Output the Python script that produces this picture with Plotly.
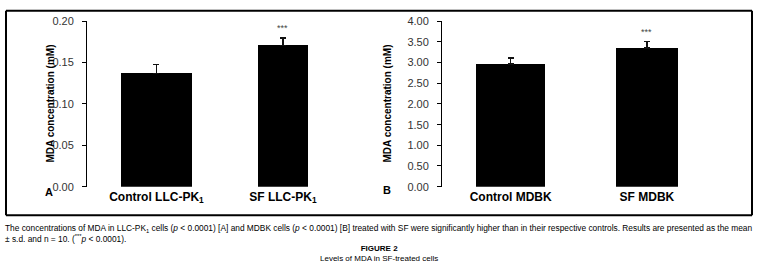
import plotly.graph_objects as go

W, H = 758, 272

# ---- data ----
cats_a = ["Control LLC-PK<sub>1</sub>", "SF LLC-PK<sub>1</sub>"]
mean_a = [0.137, 0.171]
sd_a = [0.011, 0.009]
stars_a = ["", "***"]

cats_b = ["Control MDBK", "SF MDBK"]
mean_b = [2.97, 3.36]
sd_b = [0.14, 0.15]
stars_b = ["", "***"]

ytick_a = [0, 0.05, 0.10, 0.15, 0.20]
ytick_b = [0, 0.5, 1.0, 1.5, 2.0, 2.5, 3.0, 3.5, 4.0]

ytitle = "MDA concentration (mM)"
caption1 = ("The concentrations of MDA in LLC-PK<sub>1</sub> cells (<i>p</i> &lt; 0.0001) [A] and MDBK cells "
            "(<i>p</i> &lt; 0.0001) [B] treated with SF were significantly higher than in their respective "
            "controls. Results are presented as the mean")
caption2 = "± s.d. and n = 10. (<sup>***</sup><i>p</i> &lt; 0.0001)."
fig_title = "FIGURE 2"
fig_sub = "Levels of MDA in SF-treated cells"


def px(x):
    return x / W


def py(y):
    return 1 - y / H


FONT = "Liberation Sans, Arial, sans-serif"

fig = go.Figure()

fig.add_trace(go.Bar(
    x=[0, 1], y=mean_a, width=[0.56, 0.40], marker=dict(color="black", line=dict(width=0)),
    error_y=dict(type="data", array=sd_a, arrayminus=[0, 0], symmetric=False, color="#111",
                 thickness=1.5, width=3),
    xaxis="x", yaxis="y", showlegend=False, hoverinfo="skip"))

fig.add_trace(go.Bar(
    x=[0, 1], y=mean_b, width=[0.51, 0.45], marker=dict(color="black", line=dict(width=0)),
    error_y=dict(type="data", array=sd_b, arrayminus=[0, 0], symmetric=False, color="#111",
                 thickness=1.5, width=3),
    xaxis="x2", yaxis="y2", showlegend=False, hoverinfo="skip"))

yd = [py(189), py(16)]
tickfont = dict(family=FONT, size=11, color="#333")
catfont = dict(family=FONT, size=12, color="black")

fig.update_layout(
    width=W, height=H, autosize=False,
    margin=dict(l=0, r=0, t=0, b=0),
    paper_bgcolor="white", plot_bgcolor="white",
    bargap=0,
    xaxis=dict(domain=[px(86), px(360)], range=[-0.557, 1.609], tickvals=[0, 1],
               ticktext=["<b>" + c + "</b>" for c in cats_a], showline=False, ticks="",
               showgrid=False, zeroline=False, tickfont=catfont, ticklabelstandoff=1),
    yaxis=dict(domain=yd, range=[0, 0.2], tickvals=ytick_a, tickformat=".2f",
               showline=True, linecolor="black", linewidth=1, ticks="outside", ticklen=4,
               tickcolor="black", showgrid=False, zeroline=False, tickfont=tickfont,
               ticklabelstandoff=6, anchor="free", position=px(86)),
    xaxis2=dict(domain=[px(441), px(720)], range=[-0.511, 1.536], tickvals=[0, 1],
                ticktext=["<b>" + c + "</b>" for c in cats_b], showline=False, ticks="",
                showgrid=False, zeroline=False, tickfont=catfont, ticklabelstandoff=1,
                anchor="y2"),
    yaxis2=dict(domain=yd, range=[0, 4], tickvals=ytick_b, tickformat=".2f",
                showline=True, linecolor="black", linewidth=1, ticks="outside", ticklen=4,
                tickcolor="black", showgrid=False, zeroline=False, tickfont=tickfont,
                ticklabelstandoff=6, anchor="free", position=px(441)),
)

ann = []
for i, s in enumerate(stars_a):
    if s:
        ann.append(dict(x=i, y=mean_a[i] + sd_a[i], xref="x", yref="y", text=s, showarrow=False,
                        yanchor="bottom", yshift=3, font=dict(family=FONT, size=9, color="#444")))
for i, s in enumerate(stars_b):
    if s:
        ann.append(dict(x=i, y=mean_b[i] + sd_b[i], xref="x2", yref="y2", text=s, showarrow=False,
                        yanchor="bottom", yshift=3, font=dict(family=FONT, size=9, color="#444")))

# axis titles
for xc in (42.5, 387):
    ann.append(dict(x=px(xc), y=py(102), xref="paper", yref="paper", text="<b>" + ytitle + "</b>",
                    textangle=-90, showarrow=False, font=dict(family=FONT, size=10, color="black")))
# panel letters
ann.append(dict(x=px(43), y=py(203), xref="paper", yref="paper", text="<b>A</b>", showarrow=False,
                font=dict(family=FONT, size=11, color="black")))
ann.append(dict(x=px(387), y=py(201), xref="paper", yref="paper", text="<b>B</b>", showarrow=False,
                font=dict(family=FONT, size=11, color="black")))
# caption (two lines, left aligned)
ann.append(dict(x=px(3), y=py(225), xref="paper", yref="paper", text=caption1 + "<br>" + caption2,
                showarrow=False, xanchor="left", yanchor="top", align="left",
                font=dict(family=FONT, size=8.35, color="black")))
ann.append(dict(x=0.5, y=py(258.5), xref="paper", yref="paper",
                text="<b>" + fig_title + "</b><br>" + fig_sub,
                showarrow=False, yanchor="middle", align="center",
                font=dict(family=FONT, size=8, color="black")))

fig.update_layout(annotations=ann)

# outer frame as four lines
fx0, fx1, fy0, fy1 = 6, 752, 5, 219
for (a, b, c, d) in [(fx0, fy0, fx1, fy0), (fx0, fy1, fx1, fy1), (fx0, fy0, fx0, fy1), (fx1, fy0, fx1, fy1)]:
    fig.add_shape(type="line", xref="paper", yref="paper", x0=px(a), y0=py(b), x1=px(c), y1=py(d),
                  line=dict(color="black", width=2), layer="above")

fig.write_html("out.html", config={"displayModeBar": False, "staticPlot": True},
               post_script="document.body.style.margin='0';document.body.style.overflow='hidden';")
